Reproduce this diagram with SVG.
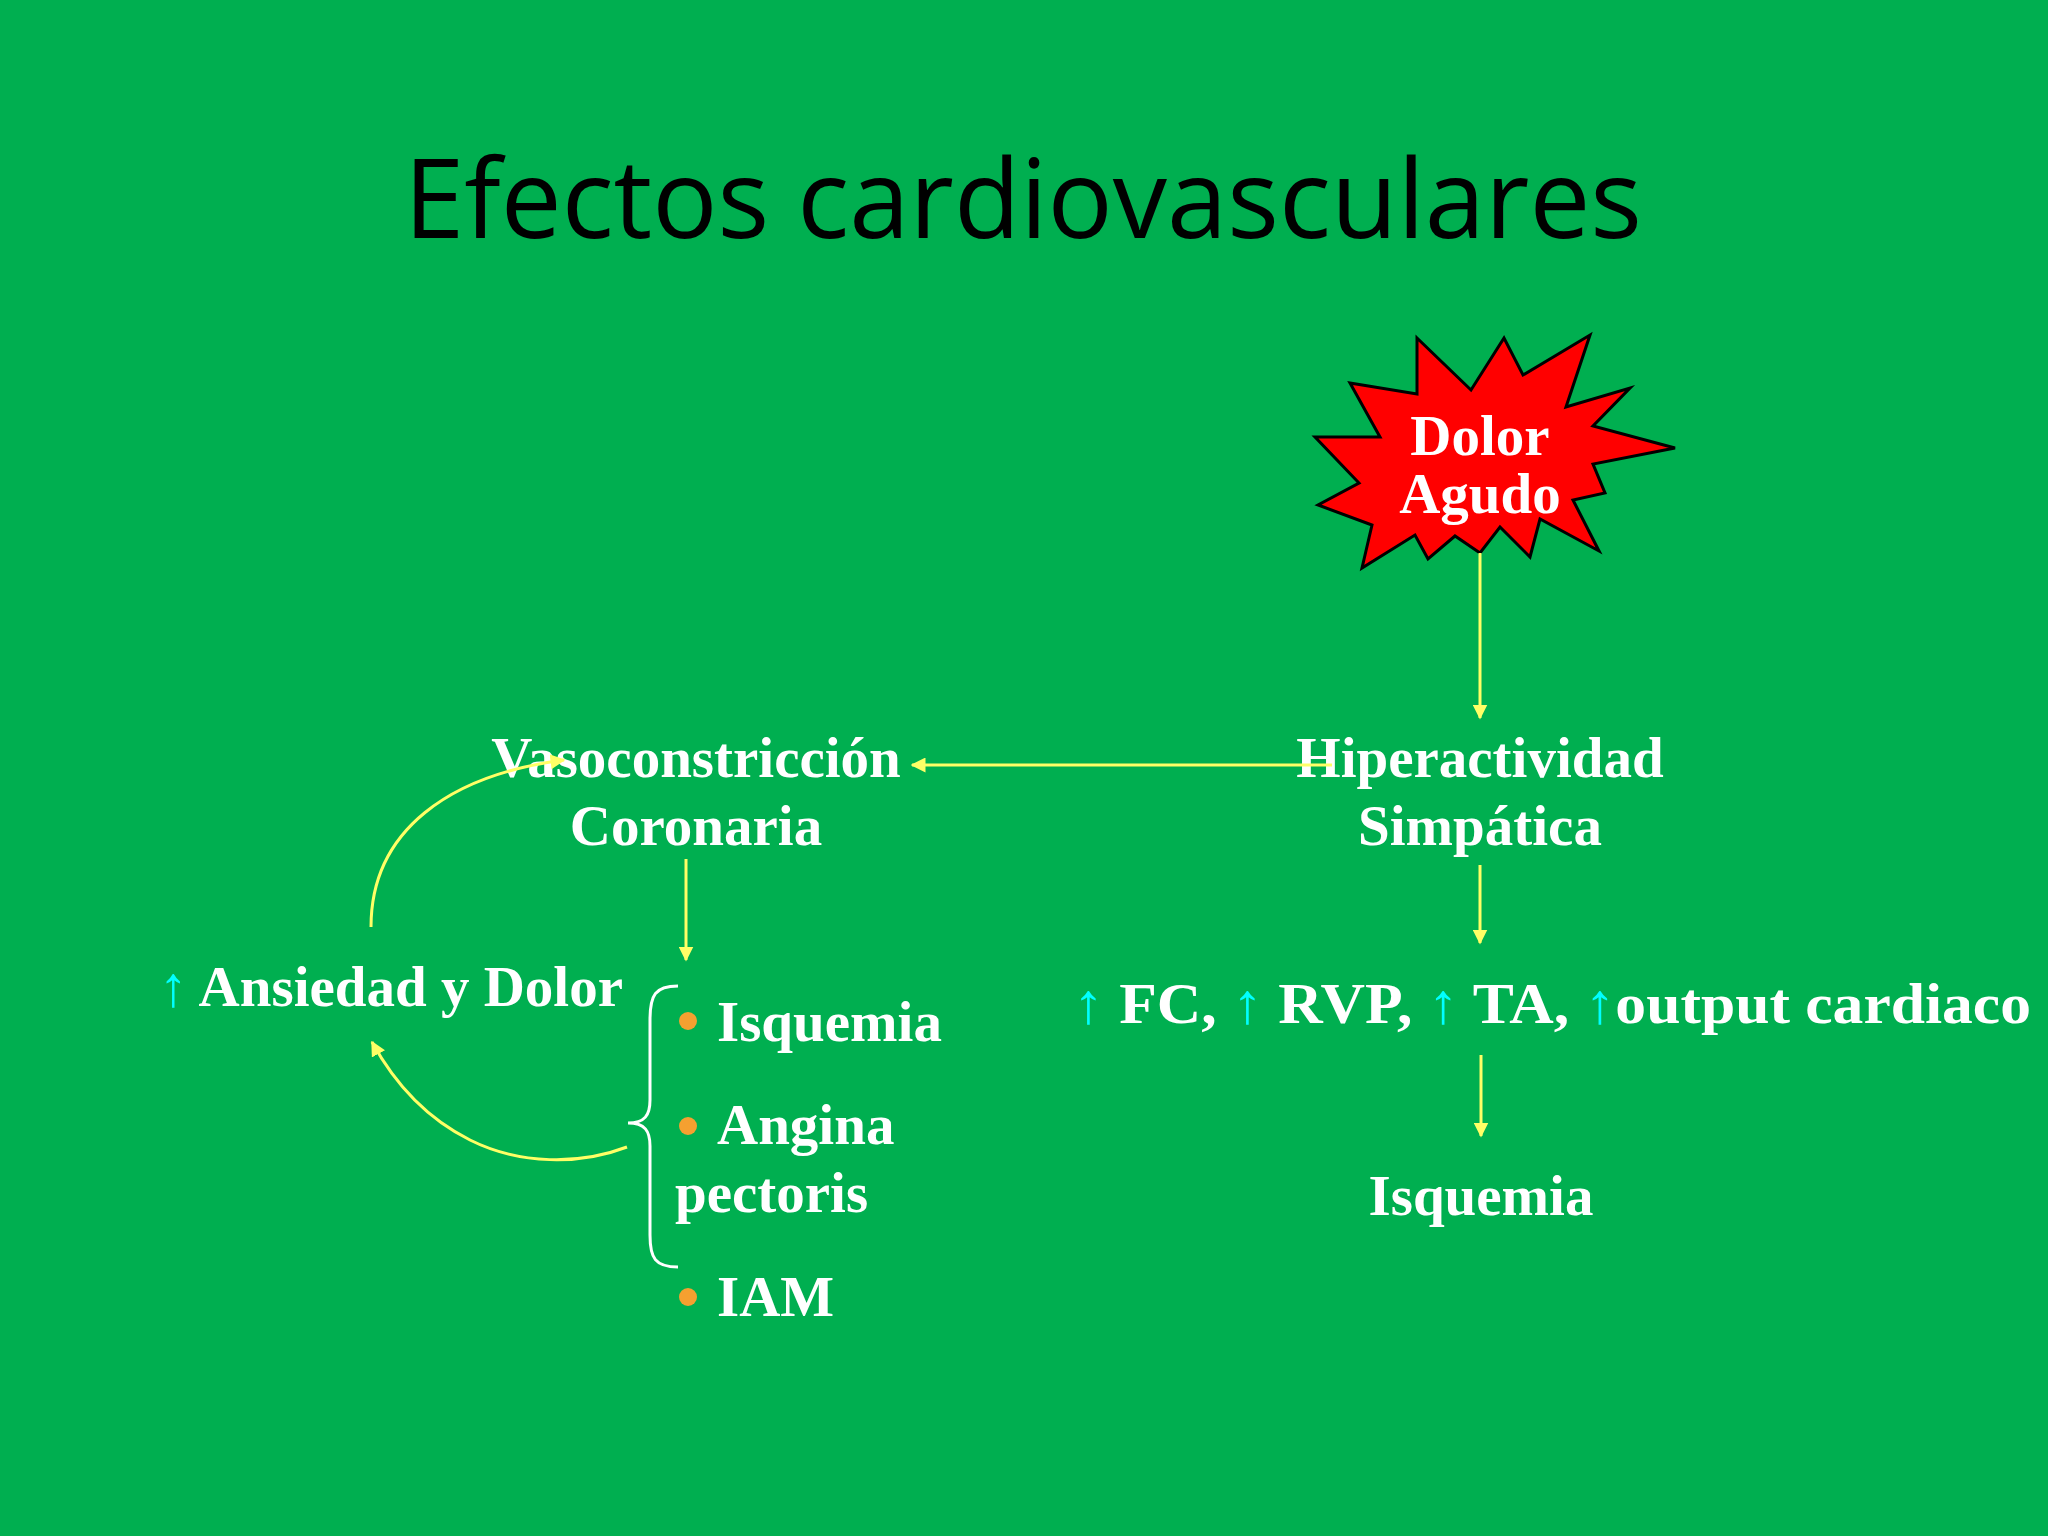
<svg xmlns="http://www.w3.org/2000/svg" width="2048" height="1536" viewBox="0 0 2048 1536">
<defs>
<marker id="ah" viewBox="0 0 10 10" refX="9" refY="5" markerWidth="5" markerHeight="5" orient="auto"><path d="M0,0 L10,5 L0,10 z" fill="#FFFF66"/></marker>
<style>
.t{font-family:"Liberation Serif","Times New Roman",serif;font-weight:bold;fill:#fff;font-size:57px}
.c{fill:#00FFFF}
.ln{stroke:#FFFF66;stroke-width:3;fill:none}
</style>
</defs>
<rect width="2048" height="1536" fill="#00AF50"/>
<text x="1023" y="238" font-family="'Open Sans','Liberation Sans',sans-serif" font-size="110" fill="#000" text-anchor="middle" textLength="1238" lengthAdjust="spacingAndGlyphs">Efectos cardiovasculares</text>
<g id="dolor">
<polygon points="1417,338 1471,390 1504,338 1523,375 1590,335 1566,407 1630,388 1593,426 1675,448 1593,464 1605,493 1573,500 1599,551 1540,519 1530,557 1500,527 1480,553 1455,536 1428,559 1415,535 1362,568 1372,525 1318,505 1359,483 1315,437 1380,437 1350,383 1417,394" fill="#FF0000" stroke="#000" stroke-width="3"/>
<text class="t" x="1480" y="455" text-anchor="middle">Dolor</text>
<text class="t" x="1480" y="513" text-anchor="middle">Agudo</text>
</g>
<g id="hiper"><text class="t" x="1480" y="777" text-anchor="middle">Hiperactividad</text><text class="t" x="1480" y="845" text-anchor="middle">Simpática</text></g>
<g id="vaso"><text class="t" x="696" y="777" text-anchor="middle">Vasoconstricción</text><text class="t" x="696" y="845" text-anchor="middle">Coronaria</text></g>
<g id="fc"><text class="t" x="1073" y="1023" textLength="958" lengthAdjust="spacingAndGlyphs"><tspan class="c">↑</tspan> FC, <tspan class="c">↑</tspan> RVP, <tspan class="c">↑</tspan> TA, <tspan class="c">↑</tspan>output  cardiaco</text></g>
<g id="isq2"><text class="t" x="1481" y="1215" text-anchor="middle">Isquemia</text></g>
<g id="ansiedad"><text class="t" x="159" y="1006"><tspan class="c" font-weight="normal">↑</tspan> Ansiedad y Dolor</text></g>
<g id="lista">
<path d="M678,986 C655,986 650,995 650,1020 L650,1100 C650,1115 645,1123 628,1123 C645,1123 650,1131 650,1146 L650,1235 C650,1258 655,1267 678,1267" fill="none" stroke="#fff" stroke-width="3"/>
<circle cx="688" cy="1021" r="9" fill="#F5A030"/><text class="t" x="717" y="1041">Isquemia</text>
<circle cx="688" cy="1126" r="9" fill="#F5A030"/><text class="t" x="717" y="1144">Angina</text>
<text class="t" x="675" y="1212">pectoris</text>
<circle cx="688" cy="1297" r="9" fill="#F5A030"/><text class="t" x="717" y="1316">IAM</text>
</g>
<g id="connectors">
<line class="ln" x1="1480" y1="553" x2="1480" y2="718" marker-end="url(#ah)"/>
<line class="ln" x1="1332" y1="765" x2="912" y2="765" marker-end="url(#ah)"/>
<line class="ln" x1="686" y1="859" x2="686" y2="960" marker-end="url(#ah)"/>
<line class="ln" x1="1480" y1="865" x2="1480" y2="943" marker-end="url(#ah)"/>
<line class="ln" x1="1481" y1="1055" x2="1481" y2="1136" marker-end="url(#ah)"/>
<path class="ln" d="M371,927 C371,830 450,775 564,760" marker-end="url(#ah)"/>
<path class="ln" d="M627,1147 C580,1165 520,1165 470,1140 C420,1115 390,1075 372,1042" marker-end="url(#ah)"/>
</g>
</svg>
